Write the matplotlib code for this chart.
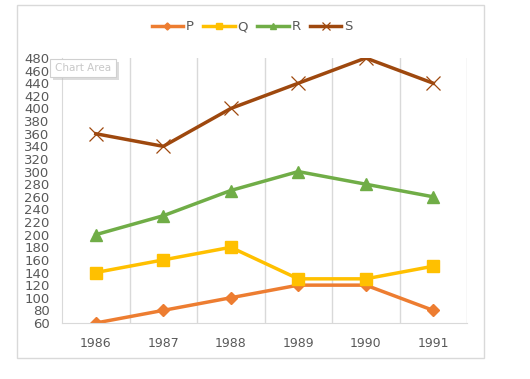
import matplotlib.pyplot as plt
from matplotlib.patches import Rectangle

years = ['1986', '1987', '1988', '1989', '1990', '1991']
p_vals = [60, 80, 100, 120, 120, 80]
q_vals = [140, 160, 180, 130, 130, 150]
r_vals = [200, 230, 270, 300, 280, 260]
s_vals = [360, 340, 400, 440, 480, 440]

W, H = 530, 379
fig = plt.figure(figsize=(W / 100, H / 100), dpi=100)

# outer chart border like Excel
fig.patches.append(Rectangle((17 / W, 1 - 358 / H), 467 / W, 353 / H,
                             transform=fig.transFigure, fill=False,
                             edgecolor='#D9D9D9', linewidth=1))

ax = fig.add_axes([62 / W, 1 - 323 / H, 405 / W, 265 / H])
x = list(range(len(years)))

ax.plot(x, p_vals, color='#ED7D31', lw=2.5, marker='D', ms=6, label='P')
ax.plot(x, q_vals, color='#FFC000', lw=2.5, marker='s', ms=8, label='Q')
ax.plot(x, r_vals, color='#70AD47', lw=2.5, marker='^', ms=8, label='R')
ax.plot(x, s_vals, color='#9E480E', lw=2.5, marker='x', ms=10, mew=0.9, label='S')

ax.set_xlim(-0.5, len(years) - 0.5)
ax.set_ylim(60, 480)
ax.set_yticks(range(60, 481, 20))
ax.set_xticks(x)
ax.set_xticklabels(years)

# category boundary gridlines
for b in range(len(years)):
    ax.axvline(b + 0.5, color='#D9D9D9', lw=1, zorder=0)

for side in ['top', 'right']:
    ax.spines[side].set_visible(False)
for side in ['left', 'bottom']:
    ax.spines[side].set_color('#D9D9D9')
ax.tick_params(axis='both', length=0, colors='#595959')
ax.tick_params(axis='y', labelsize=9.5, pad=9)
ax.tick_params(axis='x', labelsize=9, pad=10)

fig.legend(loc='center', bbox_to_anchor=(252 / W, 1 - 27 / H), ncol=4,
           frameon=False, fontsize=9.5, handlelength=2.4, columnspacing=0.7,
           handletextpad=0.2, labelcolor='#595959', markerscale=0.6)

# "Chart Area" tooltip with a soft shadow
fig.patches.append(Rectangle((53 / W, 1 - 80 / H), 66 / W, 18 / H,
                             transform=fig.transFigure, fc='#BBBBBB', ec='none',
                             alpha=0.5, zorder=5))
fig.patches.append(Rectangle((50 / W, 1 - 77 / H), 66 / W, 18 / H,
                             transform=fig.transFigure, fc='white', ec='#D0D0D0',
                             lw=0.8, zorder=6))
fig.text(83 / W, 1 - 68 / H, 'Chart Area', ha='center', va='center',
         fontsize=7.5, color='#C8C8C8', zorder=7)

plt.savefig('out.png', dpi=100)
